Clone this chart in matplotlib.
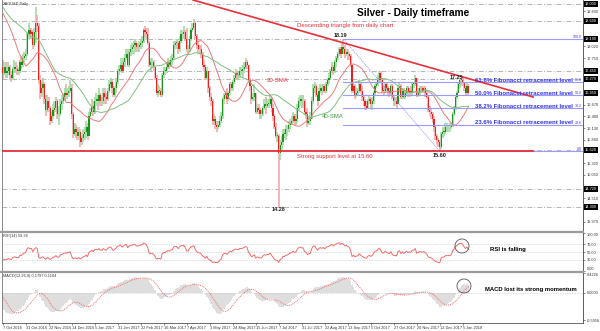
import numpy as np
import pandas as pd
import matplotlib
matplotlib.use("Agg")
import matplotlib.pyplot as plt
from matplotlib.patches import Circle
import matplotlib.transforms as mtrans

plt.rcParams['font.family'] = ['Liberation Sans', 'DejaVu Sans']

# ---------------- DATA ----------------
# closes before the visible window (used only for indicator warm-up)
warmup_close = [19.30, 19.45, 19.55, 19.35, 19.30, 19.00, 18.75, 18.80, 18.60, 18.55, 18.65,
                18.60, 18.45, 18.70, 18.90, 19.35, 19.45, 19.70, 19.60, 19.45, 19.05,
                18.95, 18.85, 18.80, 18.85, 18.75, 18.95, 19.20, 19.55, 19.60, 19.45,
                19.25, 19.00, 18.95, 19.10, 19.05, 19.00, 17.95, 17.75, 17.55]

# visible daily bars, one row per week (7 Oct 2016 .. 11 Jan 2018)
close_w = [
 [17.40],
 [17.55,17.40,17.45,17.55,17.35], [17.30,17.50,17.55,17.50,17.45], [17.45,17.65,17.60,17.75,17.80],
 [17.85,18.30,18.40,18.30,18.35], [18.05,18.35,18.55,18.50,17.25], [16.95,17.05,17.15,16.80,16.55],
 [16.75,16.60,16.30,16.40,16.55], [16.60,16.75,16.45,16.45,16.70], [16.75,16.85,16.95,16.90,16.95],
 [17.00,17.05,16.45,16.00,16.10], [16.05,15.95,16.05,15.80,15.90], [16.00,16.05,16.15,15.95],
 [16.40,16.50,16.65,16.50], [16.75,16.80,16.75,16.90,16.75], [16.75,16.95,16.85,16.80,17.00],
 [17.15,17.20,17.05,16.90,17.05], [17.20,17.45,17.50,17.60,17.45], [17.65,17.75,17.85,17.60,17.90],
 [17.95,18.00,18.05,18.10,18.00], [18.00,18.05,18.10,18.15,18.40], [18.35,18.30,18.10,17.60,17.65],
 [17.65,17.55,17.30,16.95,17.00], [17.00,16.90,17.35,17.45,17.45], [17.55,17.65,17.60,17.70,17.75],
 [18.05,18.10,18.10,17.95,18.15], [18.30,18.30,18.35,18.20,17.95], [17.95,18.20,18.40,18.45],
 [18.55,18.25,18.05,17.95,17.95], [17.85,17.60,17.55,17.30,17.45], [17.05,16.85,16.75,16.30,16.35],
 [16.20,16.15,16.20,16.30,16.40], [16.80,16.90,16.95,16.80,16.95], [17.15,17.05,17.20,17.30,17.40],
 [17.35,17.35,17.45,17.45,17.50], [17.55,17.65,17.60,17.25,17.10], [16.80,16.85,16.95,16.50,16.60],
 [16.55,16.45,16.45,16.60,16.70], [16.65,16.70,16.70,16.80,16.60], [16.40,16.15,15.95,15.95,15.55],
 [15.75,15.80,16.00,16.00,16.10], [16.10,16.20,16.25,16.30,16.40], [16.30,16.35,16.60,16.75,16.80],
 [16.75,16.75,16.50,16.45,16.25], [16.30,16.35,16.75,17.05,17.10], [16.90,16.75,17.00,17.05,17.00],
 [17.10,17.00,17.15,17.25,17.30], [17.45,17.55,17.45,17.65,17.75], [17.85,17.95,17.85,18.00,17.95],
 [17.85,17.90,17.85,17.80,17.60], [17.00,17.10,16.90,16.95,17.00], [17.15,17.00,16.85,16.75,16.65],
 [16.60,16.75,16.80,16.70,16.75], [16.95,17.10,17.15,17.25,17.40], [17.25,17.00,17.00,17.15,17.05],
 [17.00,16.95,17.10,16.85,16.75], [16.75,16.70,17.05,17.10,16.85], [17.00,16.85,16.95,17.05,16.95],
 [17.00,16.95,17.15,17.15,17.30], [16.90,16.95,17.05,17.05,17.00], [17.05,16.95,16.85,16.55,16.50],
 [16.45,16.35,16.15,15.95,15.85], [15.80,15.70,16.00,16.05,16.05], [16.15,16.15,16.15,16.15,16.20],
 [16.45,16.60,16.85,16.95], [17.15,17.25,17.25,17.20], [17.05,16.95,17.10,16.95]]

high_w = [
 [17.70],
 [17.65,17.65,17.55,17.65,17.60], [17.45,17.55,17.70,17.65,17.60], [17.55,17.70,17.80,17.85,17.90],
 [17.95,18.35,18.55,18.45,18.45], [18.40,18.45,18.93,18.75,18.55], [17.35,17.20,17.30,17.20,16.90],
 [16.90,16.85,16.65,16.50,16.70], [16.75,16.85,16.80,16.65,16.80], [16.90,16.95,17.05,17.15,17.05],
 [17.10,17.25,17.15,16.50,16.25], [16.20,16.15,16.15,16.10,15.95], [16.10,16.15,16.30,16.25],
 [16.50,16.60,16.80,16.75], [16.85,16.95,16.90,17.05,16.95], [16.85,17.05,17.05,16.95,17.05],
 [17.25,17.30,17.25,17.10,17.10], [17.30,17.50,17.60,17.75,17.65], [17.75,17.85,17.95,17.95,17.95],
 [18.05,18.10,18.15,18.20,18.15], [18.10,18.15,18.20,18.25,18.45], [18.50,18.45,18.45,18.15,17.75],
 [17.75,17.70,17.55,17.35,17.15], [17.10,17.05,17.40,17.55,17.55], [17.65,17.75,17.70,17.80,17.85],
 [18.15,18.15,18.20,18.15,18.25], [18.40,18.40,18.50,18.40,18.45], [18.05,18.25,18.45,18.55],
 [18.65,18.60,18.30,18.15,18.05], [18.05,17.90,17.70,17.60,17.55], [17.45,17.10,16.95,16.80,16.45],
 [16.40,16.30,16.30,16.40,16.50], [16.85,16.95,17.00,17.05,17.00], [17.20,17.20,17.25,17.35,17.50],
 [17.45,17.45,17.55,17.55,17.60], [17.65,17.75,17.70,17.60,17.30], [17.00,16.95,17.15,16.95,16.70],
 [16.70,16.60,16.55,16.65,16.80], [16.85,16.80,16.80,16.90,16.85], [16.70,16.45,16.25,16.05,16.00],
 [15.85,15.95,16.10,16.10,16.20], [16.20,16.30,16.35,16.40,16.50], [16.45,16.45,16.70,16.85,16.90],
 [16.90,16.90,16.80,16.55,16.60], [16.40,16.50,16.85,17.15,17.20], [17.15,16.95,17.05,17.15,17.15],
 [17.15,17.15,17.20,17.30,17.40], [17.50,17.65,17.60,17.70,17.80], [17.90,18.00,18.00,18.10,18.19],
 [18.05,17.95,17.95,17.90,17.85], [17.60,17.20,17.15,17.05,17.05], [17.25,17.20,17.10,16.90,16.80],
 [16.75,16.80,16.90,16.85,16.85], [17.00,17.15,17.20,17.35,17.45], [17.45,17.30,17.10,17.20,17.20],
 [17.10,17.05,17.15,17.15,16.90], [16.85,16.85,17.10,17.20,17.15], [17.05,17.05,17.00,17.10,17.10],
 [17.05,17.10,17.20,17.20,17.35], [17.30,17.05,17.10,17.10,17.10], [17.10,17.10,17.00,16.90,16.65],
 [16.60,16.50,16.40,16.20,16.00], [15.90,15.85,16.05,16.15,16.15], [16.25,16.25,16.20,16.25,16.25],
 [16.50,16.65,16.90,17.00], [17.20,17.30,17.25,17.30], [17.20,17.10,17.20,17.15]]

low_w = [
 [17.25],
 [17.35,17.30,17.30,17.35,17.25], [17.20,17.25,17.40,17.40,17.35], [17.35,17.40,17.50,17.55,17.65],
 [17.70,17.80,18.20,18.20,18.20], [17.95,18.00,18.10,18.35,17.15], [16.80,16.85,16.95,16.70,16.40],
 [16.50,16.50,16.20,16.25,16.35], [16.40,16.50,16.35,16.20,16.40], [16.55,16.70,16.75,16.80,16.80],
 [16.85,16.95,16.35,15.90,15.95], [15.90,15.85,15.85,15.70,15.75], [15.80,15.85,15.90,15.85],
 [15.95,16.35,16.45,16.40], [16.45,16.65,16.55,16.70,16.65], [16.65,16.70,16.70,16.70,16.75],
 [16.95,17.05,16.95,16.85,16.85], [16.95,17.15,17.35,17.45,17.40], [17.40,17.55,17.70,17.55,17.55],
 [17.80,17.85,17.85,17.95,17.90], [17.90,17.90,17.95,18.00,18.10], [18.25,18.20,18.05,17.55,17.45],
 [17.55,17.45,17.25,16.90,16.85], [16.90,16.85,16.85,17.30,17.35], [17.40,17.50,17.50,17.55,17.60],
 [17.70,17.95,17.95,17.85,17.90], [18.10,18.15,18.20,18.15,17.90], [17.85,17.90,18.15,18.35],
 [18.40,18.20,17.95,17.85,17.85], [17.75,17.55,17.45,17.25,17.25], [16.95,16.75,16.65,16.20,16.20],
 [16.10,16.05,16.10,16.15,16.25], [16.35,16.70,16.80,16.70,16.75], [16.90,17.00,17.00,17.15,17.25],
 [17.25,17.25,17.30,17.35,17.30], [17.40,17.50,17.50,17.20,17.00], [16.70,16.75,16.75,16.45,16.45],
 [16.45,16.35,16.35,16.40,16.55], [16.45,16.60,16.60,16.65,16.50], [16.30,16.10,15.90,15.80,14.28],
 [15.40,15.60,15.75,15.90,15.85], [15.95,16.05,16.10,16.20,16.25], [16.20,16.20,16.25,16.55,16.65],
 [16.60,16.60,16.45,16.35,16.15], [16.20,16.20,16.35,16.70,16.95], [16.85,16.65,16.75,16.95,16.90],
 [16.95,16.95,16.95,17.10,17.15], [17.25,17.40,17.35,17.40,17.55], [17.70,17.80,17.75,17.85,17.85],
 [17.75,17.80,17.70,17.70,17.55], [16.95,16.95,16.80,16.85,16.90], [16.95,16.95,16.75,16.65,16.55],
 [16.55,16.60,16.70,16.60,16.55], [16.70,16.90,17.05,17.10,17.20], [17.20,16.95,16.90,16.95,17.00],
 [16.90,16.85,16.90,16.80,16.65], [16.65,16.60,16.70,16.95,16.80], [16.80,16.80,16.80,16.90,16.85],
 [16.85,16.90,16.90,17.05,17.10], [16.85,16.85,16.90,16.95,16.95], [16.95,16.85,16.80,16.50,16.40],
 [16.35,16.25,16.05,15.85,15.75], [15.70,15.60,15.65,15.90,15.95], [16.00,16.05,16.05,16.05,16.10],
 [16.15,16.40,16.55,16.80], [16.95,17.05,17.10,17.10], [17.00,16.90,16.95,16.90]]

x_tick_labels = ["7 Oct 2016", "31 Oct 2016", "22 Nov 2016", "14 Dec 2016", "5 Jan 2017",
                 "31 Jan 2017", "22 Feb 2017", "16 Mar 2017", "7 Apr 2017", "3 May 2017",
                 "24 May 2017", "15 Jun 2017", "7 Jul 2017", "31 Jul 2017", "22 Aug 2017",
                 "13 Sep 2017", "5 Oct 2017", "27 Oct 2017", "20 Nov 2017", "12 Dec 2017",
                 "5 Jan 2018"]
x_tick_step = 16

price_ticks = [13.97, 14.24, 14.51, 14.78, 15.05, 15.32, 15.59, 15.86, 16.13, 16.40, 16.67,
               16.94, 17.21, 17.48, 17.75, 18.02, 18.29, 18.56, 18.83]
hlines = [19.00, 18.60, 18.19, 17.45, 17.27, 15.62, 14.72, 14.30]

swing_high = (237, 18.19)   # (bar, price)
swing_low = (304, 15.60)
fib_ratios = [0.0, 0.236, 0.382, 0.5, 0.618, 1.0]
fib_texts = {0.236: "23.6% Fibonacci retracement level", 0.382: "38.2% Fibonacci retracement level",
             0.5: "50.0% Fibonacci retracement level", 0.618: "61.8% Fibonacci retracement level"}
trend_pts = [(132.4, 19.09), (369.0, 16.85)]
support_price = 15.60
support_end_bar = 369.0

rsi_ticks = [0, 30, 50, 70, 100]
rsi_tick_labels = ["0.00", "30.00", "50.00", "70.00", "100.00"]
macd_ticks = [-0.5956, 0.0, 0.4226]
macd_tick_labels = ["-0.5956", "0.0000", "0.4226"]

# ---------------- PREP ----------------
closes = np.array(sum(close_w, []))
highs = np.array(sum(high_w, []))
lows = np.array(sum(low_w, []))
n = len(closes)
opens = np.concatenate([[warmup_close[-1]], closes[:-1]])
highs = np.maximum(highs, np.maximum(opens, closes))
lows = np.minimum(lows, np.minimum(opens, closes))
idx = np.arange(n)

allc = pd.Series(np.concatenate([warmup_close, closes]))
nw = len(warmup_close)
sma20 = allc.rolling(20).mean().values[nw:]
sma40 = allc.rolling(40, min_periods=20).mean().values[nw:]
d = allc.diff()
up = d.clip(lower=0).ewm(alpha=1/14, adjust=False).mean()
dn = (-d.clip(upper=0)).ewm(alpha=1/14, adjust=False).mean()
rsi = (100 - 100 / (1 + up / dn)).values[nw:]
macd = (allc.ewm(span=12, adjust=False).mean() - allc.ewm(span=26, adjust=False).mean())
sig = macd.rolling(9).mean().values[nw:]
macd = macd.values[nw:]

# ---------------- FIGURE ----------------
W, H = 600, 331
fig = plt.figure(figsize=(W/100, H/100), dpi=100)
fx = lambda x: x / W
fy = lambda y: 1 - y / H
L, R = 2, 583
xlim = (-0.5, (R - L) / 1.4375 - 0.5)

ax = fig.add_axes([fx(L), fy(231), fx(R) - fx(L), fy(0) - fy(231)])
axr = fig.add_axes([fx(L), fy(271), fx(R) - fx(L), fy(233) - fy(271)])
axm = fig.add_axes([fx(L), fy(323), fx(R) - fx(L), fy(273) - fy(323)])

for a in (ax, axr, axm):
    a.set_xlim(*xlim)
    a.set_facecolor('white')
    for s in ('top', 'bottom'):
        a.spines[s].set_visible(False)
    a.spines['left'].set_color('#777777')
    a.spines['left'].set_linewidth(0.6)
    a.spines['right'].set_color('#444444')
    a.spines['right'].set_linewidth(0.6)
    a.yaxis.tick_right()
    a.tick_params(axis='y', labelsize=2.8, length=1.5, width=0.4, pad=1, colors='#333333')
    a.tick_params(axis='x', bottom=False, labelbottom=False)

# separators
for yy in (231.5, 271.8):
    fig.add_artist(plt.Line2D([fx(0), fx(583)], [fy(yy), fy(yy)], color='#9a9a9a', lw=1.6))
fig.add_artist(plt.Line2D([fx(2), fx(583)], [fy(323.3), fy(323.3)], color='#555555', lw=0.6))

# --- main price panel ---
ax.set_ylim(13.756, 19.09)
for p in hlines:
    ax.axhline(p, color='#b5b5b5', lw=0.7, ls=(0, (5, 2, 1, 2)), zorder=1)

bull = closes >= opens
wick_col = np.where(bull, '#a3d9a3', '#f4aaaa')
ax.vlines(idx, lows, highs, colors=wick_col, lw=1.2, zorder=2)
body_col = np.where(bull, '#1c941c', '#ec1f1f')
ax.bar(idx, np.maximum(np.abs(closes - opens), 0.014), bottom=np.minimum(opens, closes),
       width=0.74, color=body_col, lw=0, zorder=3)

ax.plot(idx, sma20, color='#f07a7a', lw=0.7, zorder=4)
ax.plot(idx, sma40, color='#7fc07f', lw=0.7, zorder=4)

# fibonacci
hb, hp = swing_high
lb, lp = swing_low
for r in fib_ratios:
    lv = lp + r * (hp - lp)
    ax.plot([hb, xlim[1]], [lv, lv], color='#9b9bff', lw=0.8, zorder=4)
ax.plot([hb, lb], [hp, lp], color='#8f8fff', lw=0.5, ls=(0, (2, 1)), zorder=4)

# support & trend lines
ax.plot([xlim[0], support_end_bar], [support_price, support_price], color='#e8303a', lw=1.3, zorder=5)
ax.plot([trend_pts[0][0], trend_pts[1][0]], [trend_pts[0][1], trend_pts[1][1]],
        color='#e8303a', lw=1.2, zorder=5)

# price axis ticks
tr = mtrans.blended_transform_factory(ax.transAxes, ax.transData)
hl_vals = hlines + [closes[-1]]
def far(v):
    return all(abs(v - h) / 0.0231 > 5.5 for h in hl_vals)
pt = [v for v in price_ticks if far(v)]
ax.set_yticks(pt)
ax.set_yticklabels([f"{v:.3f}" for v in pt])
for p in hl_vals:
    ax.text(1.003, p, f"{p:.3f}", transform=tr, fontsize=2.8, color='white', va='center',
            ha='left', clip_on=False,
            bbox=dict(boxstyle='square,pad=0.25', fc='black', ec='none'), zorder=10)

# fib small labels
for r in fib_ratios:
    lv = lp + r * (hp - lp)
    ax.text(0.9985, lv, f"{r*100:.1f}", transform=tr, fontsize=2.6, color='#3a3aee',
            ha='right', va='bottom', zorder=6)

# --- RSI ---
axr.set_ylim(0, 100)
for lv in (70, 50, 30):
    axr.axhline(lv, color='#c0c0c0', lw=0.5, ls=(0, (1, 1.5)))
axr.plot(idx, rsi, color='#f26b6b', lw=0.7)
axr.set_yticks(rsi_ticks)
axr.set_yticklabels(rsi_tick_labels)
axr.yaxis.get_major_ticks()[0].label2.set_va('bottom')
axr.yaxis.get_major_ticks()[-1].label2.set_va('top')

# --- MACD ---
axm.set_ylim(-0.66, 0.4226)
axm.bar(idx, macd, width=1.0, color='#dedede', lw=0)
axm.axhline(0, color='#c0c0c0', lw=0.5, ls=(0, (1, 1.5)))
axm.plot(idx, sig, color='#f26b6b', lw=0.7, ls=(0, (1, 1)))
axm.set_yticks(macd_ticks)
axm.set_yticklabels(macd_tick_labels)
axm.yaxis.get_major_ticks()[-1].label2.set_va('top')
axm.set_xticks(np.arange(len(x_tick_labels)) * x_tick_step)
axm.set_xticklabels(x_tick_labels)
axm.tick_params(axis='x', bottom=True, labelbottom=True, labelsize=2.8, length=1.5,
                width=0.4, pad=0.8, colors='#333333')
for t in axm.get_xticklabels():
    t.set_ha('left')

# ---------------- TEXT ----------------
def ftxt(x, y, s, **kw):
    kw.setdefault('va', 'center')
    fig.text(fx(x), fy(y), s, **kw)

ftxt(3, 3.5, "XAGUSD,Daily", fontsize=2.8, color='#333333')
ftxt(3, 235.5, "RSI(14) 59.34", fontsize=2.8, color='#333333')
ftxt(3, 275.5, "MACD(12,26,9) 0.1797 0.1184", fontsize=2.8, color='#333333')

ftxt(357, 13, "Silver - Daily timeframe", fontsize=7.3, fontweight='bold', color='black')
ftxt(297, 25, "Descending triangle from daily chart", fontsize=4.3, color='#e8303a')
ftxt(297, 156, "Strong support level at 15.60", fontsize=4.2, color='#e8303a')
ftxt(267, 80, "20-SMA", fontsize=4.3, color='#e8303a')
ftxt(322, 116, "40-SMA", fontsize=4.3, color='#3a9a3a')
ftxt(340, 35.5, "18.19", fontsize=4.0, fontweight='bold', color='#222222', ha='center')
ftxt(456, 77.5, "17.25", fontsize=4.0, fontweight='bold', color='#222222', ha='center')
ftxt(440, 155.5, "15.60", fontsize=4.0, fontweight='bold', color='#222222', ha='center')
ftxt(279, 209.5, "14.28", fontsize=4.0, fontweight='bold', color='#222222', ha='center')

fib_text_y = {0.618: 81, 0.5: 93.5, 0.382: 106.5, 0.236: 123}
for r, s in fib_texts.items():
    ftxt(573, fib_text_y[r], s, fontsize=4.3, fontweight='bold', color='#3333ee', ha='right')

ftxt(490, 249, "RSI is falling", fontsize=4.3, fontweight='bold', color='black')
ftxt(485, 290, "MACD lost its strong momentum", fontsize=4.2, fontweight='bold', color='black')

for cx, cy in ((462, 246), (464, 286)):
    fig.add_artist(Circle((cx / 100, (H - cy) / 100), 0.07, transform=fig.dpi_scale_trans,
                          fill=False, ec='#555555', lw=0.6))

fig.savefig("out.png", dpi=100, facecolor='white')
